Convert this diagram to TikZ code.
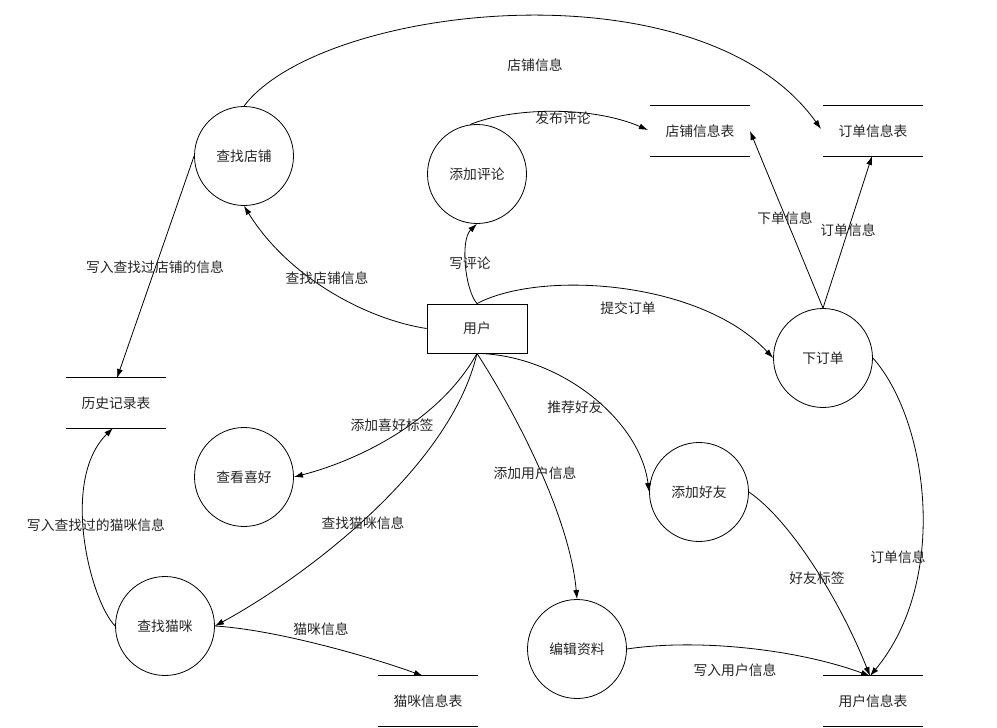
\documentclass[tikz,border=0pt]{standalone}
\usepackage{fontspec}
\setmainfont{Noto Sans CJK SC}
\usetikzlibrary{arrows.meta}
\begin{document}
\begin{tikzpicture}[x=1pt,y=-1pt,
  every node/.style={font=\fontsize{13.8}{16}\selectfont, text=black!85},
  proc/.style={draw=black, line width=0.8pt, circle, minimum size=99pt, inner sep=0pt},
  ent/.style={draw=black, line width=0.8pt, rectangle, minimum width=100pt, minimum height=49pt, inner sep=0pt},
  store/.style={rectangle, minimum width=99pt, minimum height=50pt, inner sep=0pt},
  flow/.style={draw=black, line width=0.8pt, -{Latex[length=9pt,width=6pt]}},
  lbl/.style={inner sep=0pt}]
\useasboundingbox (0,0) rectangle (997,728);
\fill[white] (0,0) rectangle (997,728);

% entity
\node[ent] (user) at (477,328.5) {用户};

% processes
\node[proc] (dp) at (244,156) {查找店铺};
\node[proc] (pl) at (477,174) {添加评论};
\node[proc] (xh) at (244,477) {查看喜好};
\node[proc] (mz) at (165,626) {查找猫咪};
\node[proc] (bj) at (577,649) {编辑资料};
\node[proc] (hy) at (699,492) {添加好友};
\node[proc] (xd) at (823,358) {下订单};

% stores
\node[store] (ds) at (700,131) {店铺信息表};
\node[store] (dd) at (873,131) {订单信息表};
\node[store] (hist) at (116,403) {历史记录表};
\node[store] (mx) at (428,701) {猫咪信息表};
\node[store] (yh) at (873,701) {用户信息表};
\foreach \s in {ds,dd,hist,mx,yh}{
  \draw[line width=0.9pt] (\s.north west) -- (\s.north east);
  \draw[line width=0.9pt] (\s.south west) -- (\s.south east);
}

% anchor coordinates on stores
\coordinate (ddw) at (821,129);
\coordinate (dsw) at (648,130);
\coordinate (dse) at (750,131);
\coordinate (dds) at (872,156);
\coordinate (histn) at (117,378);
\coordinate (hists) at (113,428);
\coordinate (mxn) at (423,676);
\coordinate (yhn) at (870,676);

% flows
\draw[flow] (dp.north) .. controls (320,5) and (700,-40) .. (ddw);
\draw[flow] (pl.98) .. controls (510,108) and (590,105) .. (dsw);
\draw[flow] (user.north) .. controls (465,290) and (460,240) .. (pl.south);
\draw[flow] (user.west) .. controls (370,320) and (290,280) .. (dp.south);
\draw[flow] (dp.west) -- (histn);
\draw[flow] (user.north) .. controls (540,270) and (700,280) .. (xd.west);
\draw[flow] (xd.north) -- (dse);
\draw[flow] (xd.north) -- (dds);
\draw[flow] (xd.east) .. controls (928,420) and (950,580) .. (yhn);
\draw[flow] (hy.east) .. controls (790,520) and (840,600) .. (yhn);
\draw[flow] (bj.east) .. controls (700,638) and (800,650) .. (yhn);
\draw[flow] (user.south) .. controls (560,355) and (640,420) .. (hy.west);
\draw[flow] (user.south) .. controls (520,420) and (570,520) .. (bj.north);
\draw[flow] (user.south) .. controls (440,420) and (360,460) .. (xh.east);
\draw[flow] (user.south) .. controls (450,470) and (300,580) .. (mz.east);
\draw[flow] (mz.east) .. controls (280,630) and (380,660) .. (mxn);
\draw[flow] (mz.west) .. controls (90,600) and (60,480) .. (hists);

% labels
\node[lbl] (l1) at (535,65) {店铺信息};
\node[lbl] (l2) at (563,118) {发布评论};
\node[lbl] (l3) at (470,263) {写评论};
\node[lbl] (l4) at (327,278) {查找店铺信息};
\node[lbl] (l5) at (155,267) {写入查找过店铺的信息};
\node[lbl] (l6) at (628,308) {提交订单};
\node[lbl] (l7) at (785,218) {下单信息};
\node[lbl] (l8) at (848,230) {订单信息};
\node[lbl] (l9) at (898,557) {订单信息};
\node[lbl] (l10) at (817,578) {好友标签};
\node[lbl] (l11) at (735,670) {写入用户信息};
\node[lbl] (l12) at (575,407) {推荐好友};
\node[lbl] (l13) at (535,473) {添加用户信息};
\node[lbl] (l14) at (392,425) {添加喜好标签};
\node[lbl] (l15) at (363,523) {查找猫咪信息};
\node[lbl] (l16) at (321,629) {猫咪信息};
\node[lbl] (l17) at (96,525) {写入查找过的猫咪信息};
\end{tikzpicture}
\end{document}
